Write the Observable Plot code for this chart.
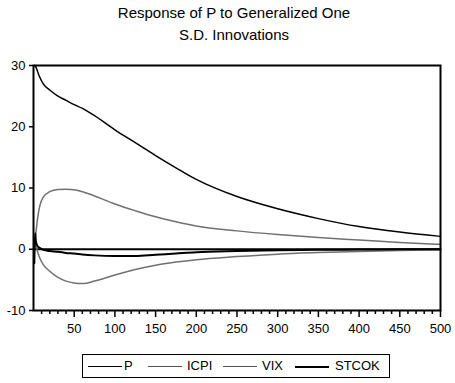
<!DOCTYPE html>
<html>
<head>
<meta charset="utf-8">
<script src="https://cdn.jsdelivr.net/npm/d3@7"></script>
<script src="https://cdn.jsdelivr.net/npm/@observablehq/plot@0.6"></script>
<style>
  html, body { margin: 0; padding: 0; background: #fff; }
  body { width: 455px; height: 383px; overflow: hidden; position: relative; font-family: "Liberation Sans", Arial, sans-serif; }
  #title { width: 455px; height: 50px; text-align: center; font-size: 15px; line-height: 22px; padding-top: 2px; box-sizing: border-box; color: #000; padding-left: 13px; }
  #chart svg { display: block; }
  #legend { position: absolute; left: 82px; top: 354px; width: 308px; height: 24px; border: 1.5px solid #000; box-sizing: border-box; font-size: 13px; }
  .sw { position: absolute; top: 11px; width: 34px; height: 0; border-top: 1.5px solid #000; }
  .lt { position: absolute; top: 3px; line-height: 15px; color: #000; }
</style>
</head>
<body>
<div id="title">Response of P to Generalized One<br>S.D. Innovations</div>
<div id="chart"></div>
<div id="legend"></div>
<script>
const steps = [1, 2, 3, 4, 5, 8, 12, 20, 30, 40, 50, 60, 75, 100, 125, 150, 175, 200, 250, 300, 350, 400, 450, 500];
const P     = [30, 30, 29.7, 29.4, 29, 28, 27, 26, 25, 24.3, 23.6, 23, 21.8, 19.5, 17.4, 15.3, 13.3, 11.4, 8.6, 6.6, 5.0, 3.7, 2.8, 2.1];
const ICPI  = [0.5, 1.5, 2.8, 3.9, 5.0, 7.2, 8.5, 9.4, 9.75, 9.8, 9.7, 9.4, 8.7, 7.4, 6.3, 5.3, 4.5, 3.8, 3.0, 2.4, 1.9, 1.5, 1.1, 0.8];
const VIX   = [2.0, 1.0, 0.5, 0.1, -0.4, -1.5, -2.5, -3.6, -4.6, -5.2, -5.5, -5.6, -5.2, -4.2, -3.3, -2.6, -2.1, -1.7, -1.2, -0.8, -0.55, -0.35, -0.2, -0.1];
const STCOK = [-2.3, 2.6, 1.2, 0.8, 0.5, 0.2, -0.1, -0.3, -0.4, -0.6, -0.7, -0.85, -1.0, -1.1, -1.1, -0.9, -0.7, -0.5, -0.3, -0.15, -0.1, -0.05, -0.02, 0];
const seriesNames = ["P", "ICPI", "VIX", "STCOK"];
const seriesColors = ["#000000", "#707070", "#707070", "#000000"];
const seriesWidths = [1.5, 1.5, 1.5, 2];
const yTicks = [-10, 0, 10, 20, 30];
const xMajor = [50, 100, 150, 200, 250, 300, 350, 400, 450, 500];
const xMinor = [10, 20, 30, 40, 60, 70, 80, 90, 110, 120, 130, 140, 160, 170, 180, 190, 210, 220, 230, 240,
                260, 270, 280, 290, 310, 320, 330, 340, 360, 370, 380, 390, 410, 420, 430, 440, 460, 470, 480, 490];

const seriesValues = [P, ICPI, VIX, STCOK];
const data = seriesNames.flatMap((name, k) => steps.map((s, i) => ({series: name, step: s, value: seriesValues[k][i]})));

const chart = Plot.plot({
  width: 455,
  height: 295,
  marginTop: 15,
  marginBottom: 35,
  marginLeft: 33,
  marginRight: 15,
  style: {fontFamily: '"Liberation Sans", Arial, sans-serif', fontSize: "13px", color: "#000", background: "#fff"},
  x: {domain: [0, 500], label: null},
  y: {domain: [-10, 30], label: null},
  marks: [
    Plot.ruleY([0], {stroke: "#000", strokeWidth: 2}),
    ...seriesNames.map((name, k) => Plot.line(data.filter(d => d.series === name), {
      x: "step", y: "value", stroke: seriesColors[k], strokeWidth: seriesWidths[k], curve: "monotone-x"
    })),
    Plot.axisX({ticks: xMinor, tickSize: 4, tickFormat: () => "", label: null, stroke: "#000", strokeWidth: 1.5}),
    Plot.axisX({ticks: xMajor, tickSize: 7, tickPadding: 6, label: null, stroke: "#000", strokeWidth: 1.5, fontSize: 13, tickFormat: d => String(d)}),
    Plot.axisY({ticks: yTicks, tickSize: 4, tickPadding: 4, label: null, stroke: "#000", strokeWidth: 1.5, fontSize: 13, tickFormat: d => String(d)}),
    Plot.frame({stroke: "#000", strokeWidth: 2})
  ]
});
document.getElementById("chart").appendChild(chart);

const legend = document.getElementById("legend");
const swLeft = [5, 65, 140, 212];
const txLeft = [41, 104, 179, 252];
seriesNames.forEach((name, k) => {
  const sw = document.createElement("div");
  sw.className = "sw";
  sw.style.left = swLeft[k] + "px";
  sw.style.borderTopColor = seriesColors[k] === "#707070" ? "#555" : "#000";
  sw.style.borderTopWidth = seriesWidths[k] + "px";
  const t = document.createElement("span");
  t.className = "lt";
  t.style.left = txLeft[k] + "px";
  t.textContent = name;
  legend.appendChild(sw); legend.appendChild(t);
});
</script>
</body>
</html>
